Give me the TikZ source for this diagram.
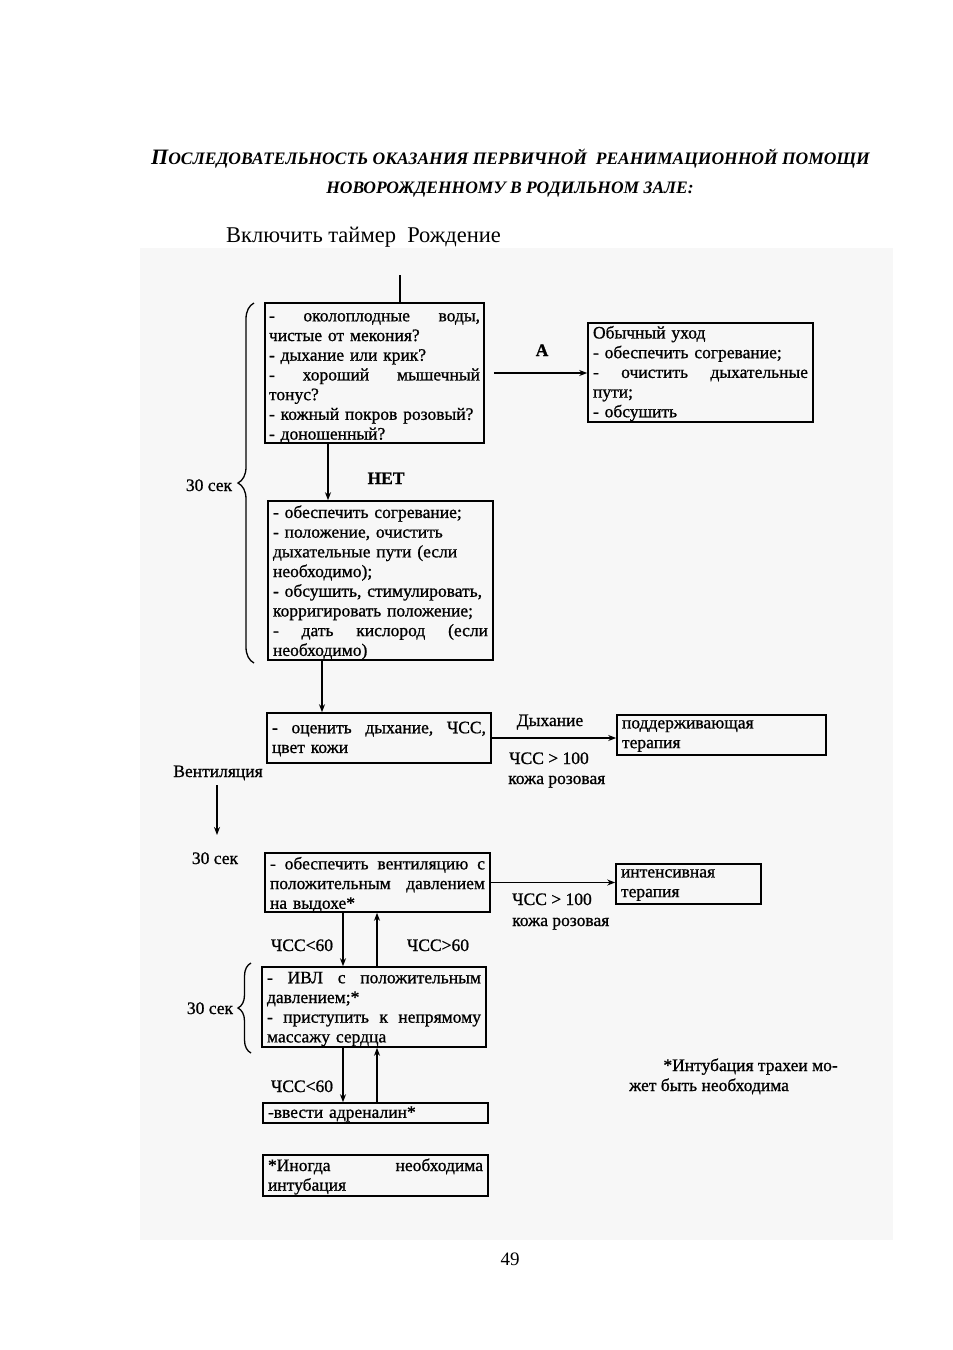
\documentclass[tikz,border=0pt]{standalone}
\usepackage{fontspec}
\usepackage{graphicx}
\setmainfont{Liberation Serif}
\newfontfamily\bxfam[FakeBold=0.9]{Liberation Serif}
\usetikzlibrary{arrows.meta,decorations.pathreplacing}
\newcommand\bxf{\bxfam\fontsize{17.5}{19.7}\selectfont}
\newcommand\tsm[1]{{\fontsize{17.5}{17.5}\selectfont #1}}
\newcommand\tbg[1]{{\fontsize{22}{22}\selectfont #1}}
\tikzset{
  box/.style={draw, line width=1.6pt, rectangle, inner sep=0pt, anchor=center},
  btxt/.style={inner xsep=0pt, inner ysep=0pt, align=left, font=\bxf, anchor=center},
  lbl/.style={font=\bxf, inner sep=0pt, anchor=base},
  arr/.style={-{Stealth[length=8pt,width=6pt]}, line width=1.4pt},
  ln/.style={line width=1.4pt},
  brc/.style={decorate, decoration={brace, amplitude=#1}, line width=1.3pt},
}
\begin{document}
\begin{tikzpicture}[x=1pt,y=-1pt]
\useasboundingbox (0,0) rectangle (953,1350);
\fill[black!3] (140,248) rectangle (893,1240);

% title
\node[inner sep=0pt, anchor=base, font=\bfseries\itshape] (t1) at (510.5,164)
  {\tbg{П}\tsm{ОСЛЕДОВАТЕЛЬНОСТЬ ОКАЗАНИЯ ПЕРВИЧНОЙ\ \ РЕАНИМАЦИОННОЙ ПОМОЩИ}};
\node[inner sep=0pt, anchor=base, font=\bfseries\itshape] (t2) at (510,193)
  {\tsm{НОВОРОЖДЕННОМУ В РОДИЛЬНОМ ЗАЛЕ:}};
\node[inner sep=0pt, anchor=base west, font=\fontsize{22.5}{22.5}\selectfont] (t3) at (226,242)
  {Включить таймер\ \ Рождение};

% boxes (frames)
\node[box, minimum width=219pt, minimum height=140pt] (B1) at (374.5,373) {};
\node[box, minimum width=225pt, minimum height=99pt] (Bok) at (700.5,372.5) {};
\node[box, minimum width=225pt, minimum height=159pt] (B2) at (380.5,580.5) {};
\node[box, minimum width=224pt, minimum height=50pt] (B3) at (379,738) {};
\node[box, minimum width=209pt, minimum height=40pt] (B4) at (721.5,735) {};
\node[box, minimum width=225pt, minimum height=59pt] (B5) at (377.5,882.5) {};
\node[box, minimum width=145pt, minimum height=40pt] (B6) at (688.5,884) {};
\node[box, minimum width=224pt, minimum height=80pt] (B7) at (374,1007) {};
\node[box, minimum width=225pt, minimum height=20pt] (B8) at (375.5,1113) {};
\node[box, minimum width=225pt, minimum height=41pt] (B9) at (375.5,1175.5) {};

% box texts
\node[btxt, text width=211pt] (B1t) at ([yshift=-5pt]B1.center)
  {-\hfill околоплодные\hfill воды,\\ чистые от мекония?\\ - дыхание или крик?\\
   -\hfill хороший\hfill мышечный\\ тонус?\\ - кожный покров розовый?\\ - доношенный?};
\node[btxt, text width=215pt] (Bokt) at ([yshift=-1pt]Bok.center)
  {Обычный уход\\ - обеспечить согревание;\\ -\hfill очистить\hfill дыхательные\\ пути;\\ - обсушить};
\node[btxt, text width=215pt] (B2t) at ([yshift=-2pt]B2.center)
  {- обеспечить согревание;\\ - положение, очистить\\ дыхательные пути (если\\ необходимо);\\
   - обсушить, стимулировать,\\ корригировать положение;\\ -\hfill дать\hfill кислород\hfill (если\\ необходимо)};
\node[btxt, text width=214pt] (B3t) at ([yshift=-1pt]B3.center)
  {-\hfill оценить\hfill дыхание,\hfill ЧСС,\\ цвет кожи};
\node[btxt, text width=199pt] (B4t) at ([yshift=-1pt]B4.center)
  {поддерживающая\\ терапия};
\node[btxt, text width=215pt] (B5t) at ([yshift=-2pt]B5.center)
  {-\hfill обеспечить\hfill вентиляцию\hfill с\\ положительным\hfill давлением\\ на выдохе*};
\node[btxt, text width=135pt] (B6t) at ([yshift=-1pt]B6.center)
  {интенсивная\\ терапия};
\node[btxt, text width=214pt] (B7t) at ([yshift=-2pt]B7.center)
  {-\hfill ИВЛ\hfill с\hfill положительным\\ давлением;*\\ -\hfill приступить\hfill к\hfill непрямому\\ массажу сердца};
\node[btxt, text width=215pt] (B8t) at ([yshift=-1pt]B8.center)
  {-ввести адреналин*};
\node[btxt, text width=215pt] (B9t) at ([yshift=-1pt]B9.center)
  {*Иногда\hfill необходима\\ интубация};

% labels
\node[lbl, font=\bxf\bfseries] (lA) at (542,356) {А};
\node[lbl, font=\bxf\bfseries] (lNo) at (386,484) {НЕТ};
\node[lbl] (s1) at (209,491) {30 сек};
\node[lbl] (lBr) at (550,726) {Дыхание};
\node[lbl, anchor=base west] (c1) at (509,764) {ЧСС > 100};
\node[lbl, anchor=base west] (k1) at (508,784) {кожа розовая};
\node[lbl] (lV) at (218,777) {Вентиляция};
\node[lbl] (s2) at (215,864) {30 сек};
\node[lbl, anchor=base west] (c2) at (512,905) {ЧСС > 100};
\node[lbl, anchor=base west] (k2) at (512,926) {кожа розовая};
\node[lbl] (l60a) at (302,951) {ЧСС<60};
\node[lbl] (g60) at (438,951) {ЧСС>60};
\node[lbl] (s3) at (210,1014) {30 сек};
\node[lbl] (l60b) at (302,1092) {ЧСС<60};
\node[lbl, anchor=base east] (n1) at (838,1071) {*Интубация трахеи мо-};
\node[lbl, anchor=base west] (n2) at (629,1091) {жет быть необходима};
\node[inner sep=0pt, anchor=base, font=\fontsize{19}{19}\selectfont] (pg) at (510,1265) {49};

% coordinates
\coordinate (st) at (400,275);
\coordinate (xa) at (328,0);
\coordinate (xb) at (322,0);
\coordinate (v1) at (217,785);
\coordinate (v2) at (217,835);
\coordinate (xd) at (343,0);
\coordinate (xu) at (377,0);

% connectors
\draw[ln] (st) -- (st |- B1.north);
\draw[arr] (B1.south -| xa) -- (B2.north -| xa);
\draw[arr] ([xshift=9pt]B1.east) -- (B1.east -| Bok.west);
\draw[arr] (B2.south -| xb) -- (B3.north -| xb);
\draw[arr] (B3.east) -- (B3.east -| B4.west);
\draw[arr] (v1) -- (v2);
\draw[arr] (B5.east) -- (B5.east -| B6.west);
\draw[arr] (B5.south -| xd) -- (B7.north -| xd);
\draw[arr] (B7.north -| xu) -- (B5.south -| xu);
\draw[arr] (B7.south -| xd) -- (B8.north -| xd);
\draw[arr] (B8.north -| xu) -- (B7.south -| xu);

% braces
\draw[brc=16pt] (254,663) -- (254,303);
\draw[brc=13pt] (251,1053) -- (251,963);
\end{tikzpicture}
\end{document}
